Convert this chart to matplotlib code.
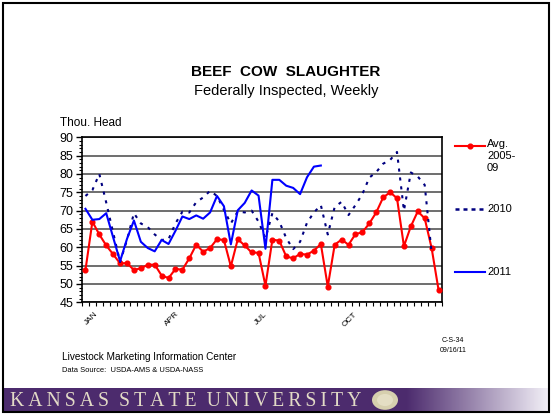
import numpy as np
import matplotlib
matplotlib.use("Agg")
import matplotlib.pyplot as plt
from matplotlib.lines import Line2D
from matplotlib.patches import Rectangle, Circle

plt.rcParams['font.family'] = ['Liberation Sans', 'DejaVu Sans']

# weekly beef cow slaughter, thousand head
avg_0509 = [53.8, 67.0, 63.5, 60.5, 58.1, 55.6, 55.7, 53.8, 54.3, 55.2, 55.3, 52.3, 51.6,
            54.1, 53.9, 57.0, 60.7, 58.8, 59.8, 62.2, 62.0, 54.8, 62.2, 60.5, 58.6, 58.5,
            49.5, 62.1, 61.8, 57.5, 57.0, 58.2, 58.0, 59.1, 60.9, 49.3, 60.7, 62.1, 60.7,
            63.6, 64.1, 66.5, 69.5, 73.6, 75.0, 73.4, 60.3, 65.7, 69.8, 67.9, 59.8, 48.4]
y2010 = [74.0, 75.6, 80.0, 72.2, 64.0, 56.0, 62.0, 69.3, 66.5, 65.5, 63.5, 62.0, 62.2,
         66.5, 69.7, 69.5, 72.3, 73.6, 75.4, 74.0, 70.2, 66.5, 69.8, 69.5, 70.0, 67.0,
         62.5, 69.3, 67.0, 62.5, 59.5, 61.5, 66.7, 69.5, 71.5, 63.5, 71.0, 72.4, 68.8,
         71.5, 74.5, 79.0, 80.5, 82.8, 83.8, 86.0, 70.0, 80.4, 79.3, 77.0, 58.5]
y2011 = [70.5, 67.5, 67.7, 69.3, 62.7, 56.2, 62.3, 67.3, 61.5, 59.8, 58.9, 62.0, 60.9,
         64.5, 68.4, 67.7, 68.7, 67.8, 69.5, 74.0, 71.2, 60.8, 70.1, 72.1, 75.5, 74.1,
         59.6, 78.4, 78.4, 76.8, 76.2, 74.5, 79.1, 82.0, 82.3]
months = ["JAN", "APR", "JUL", "OCT"]
month_pos = [1.3, 13.0, 25.8, 38.7]
n_weeks = 52

W, H = 553, 418
def fx(x):
    return x / W
def fy(y):
    return 1 - y / H

fig = plt.figure(figsize=(W / 100, H / 100), dpi=100)
fig.patch.set_facecolor('white')

ax = fig.add_axes([fx(82), fy(302.3), fx(442) - fx(82), (302.3 - 137.3) / H])
ax.plot(range(len(avg_0509)), avg_0509, color='#ff0000', lw=1.5, marker='o', ms=3.4, zorder=3)
ax.plot(range(len(y2010)), y2010, color='#000080', lw=1.5, ls=(0, (1.5, 2.8)), zorder=4)
ax.plot(range(len(y2011)), y2011, color='#0000ff', lw=1.5, zorder=5)

ax.set_xlim(-0.5, n_weeks - 0.5)
ax.set_ylim(45, 90)
ax.set_yticks(np.arange(45, 91, 5))
ax.set_yticks(np.arange(45, 91, 1), minor=True)
ax.set_xticks([])
ax.set_xticks(np.arange(-0.5, n_weeks, 1), minor=True)
ax.tick_params(axis='y', which='major', direction='out', length=4, width=1, labelsize=9, pad=2)
ax.tick_params(axis='y', which='minor', direction='out', length=2, width=0.8)
ax.tick_params(axis='x', which='minor', direction='out', length=3, width=0.8)
ax.yaxis.grid(True, which='major', color='#555555', lw=1.2)
ax.set_axisbelow(True)
for s in ax.spines.values():
    s.set_linewidth(1.2)
    s.set_color('black')

for m, w in zip(months, month_pos):
    ax.text(w, -0.05, m, transform=ax.get_xaxis_transform(), rotation=45,
            ha='right', va='top', rotation_mode='anchor', fontsize=6)

fig.text(fx(60), fy(123), "Thou. Head", fontsize=8.5, va='center', ha='left')
fig.text(fx(286), fy(72), "BEEF  COW  SLAUGHTER", fontsize=11, fontweight='bold',
         ha='center', va='center')
fig.text(fx(286), fy(91), "Federally Inspected, Weekly", fontsize=10.5, ha='center', va='center')

# legend
fig.add_artist(Line2D([fx(455), fx(485)], [fy(145.7)] * 2, color='#ff0000', lw=1.5))
fig.add_artist(Line2D([fx(470)], [fy(145.7)], color='#ff0000', marker='o', ms=3.4))
fig.add_artist(Line2D([fx(455), fx(485)], [fy(209)] * 2, color='#000080', lw=1.8,
                      ls=(0, (1.6, 1.6))))
fig.add_artist(Line2D([fx(455), fx(485)], [fy(271.7)] * 2, color='#0000ff', lw=1.5))
fig.text(fx(487), fy(139), "Avg.\n2005-\n09", fontsize=8, va='top', ha='left', linespacing=1.25)
fig.text(fx(487), fy(209), "2010", fontsize=8, va='center', ha='left')
fig.text(fx(487), fy(271.7), "2011", fontsize=8, va='center', ha='left')

# footer
fig.text(fx(62), fy(357), "Livestock Marketing Information Center", fontsize=7.2, va='center')
fig.text(fx(62), fy(370), "Data Source:  USDA-AMS & USDA-NASS", fontsize=5.4, va='center')
fig.text(fx(453), fy(340), "C-S-34", fontsize=5, ha='center', va='center')
fig.text(fx(453), fy(351), "09/16/11", fontsize=5, ha='center', va='center')

# university banner
bax = fig.add_axes([fx(3), fy(411), fx(549) - fx(3), (411 - 388) / H])
cols = np.linspace(0, 1, 400)
purple = np.array([0.30, 0.17, 0.43])
light = np.array([0.95, 0.94, 0.97])
t = np.clip((cols - 0.74) / 0.26, 0, 1)[:, None]
grad = (purple * (1 - t) + light * t)[None, :, :]
bax.imshow(grad, aspect='auto', extent=[0, 1, 0, 1])
bax.set_xlim(0, 1)
bax.set_ylim(0, 1)
bax.axis('off')
banner = "  ".join("\u2009".join(word) for word in ["KANSAS", "STATE", "UNIVERSITY"])
fig.text(fx(10), fy(401), banner, fontsize=14.2, color='#e2dac6',
         family=['Liberation Serif', 'DejaVu Serif'], ha='left', va='center')
fig.add_artist(Circle((fx(385), fy(400)), 13 / W, transform=fig.transFigure,
                      facecolor='#d6cfae', edgecolor='none'))
fig.add_artist(Circle((fx(385), fy(400)), 8 / W, transform=fig.transFigure,
                      facecolor='#e4dec4', edgecolor='none'))

# slide frame
fig.add_artist(Rectangle((fx(3), fy(412)), fx(549) - fx(3), (412 - 3) / H, transform=fig.transFigure,
                         fill=False, edgecolor='black', lw=1.5))

fig.savefig('out.png', dpi=100)
